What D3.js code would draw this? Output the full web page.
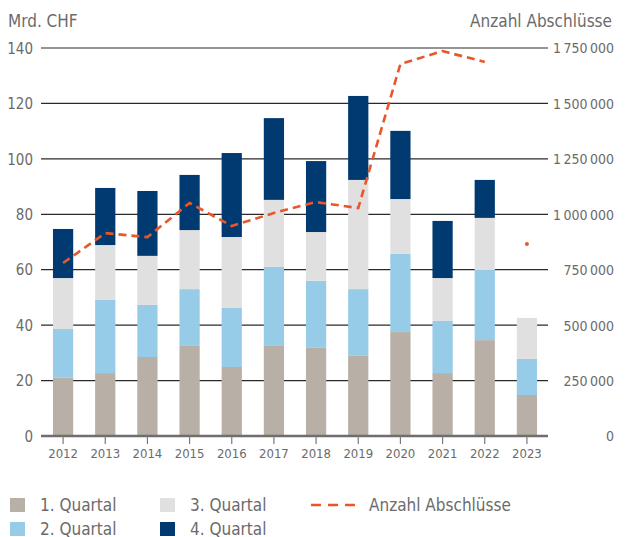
<!DOCTYPE html>
<html>
<head>
<meta charset="utf-8">
<script src="https://cdn.jsdelivr.net/npm/d3@7"></script>
<style>
    body { margin: 0; background: #fff; }
    svg text { font-family: "Liberation Sans Narrow", "DejaVu Sans Condensed", "Open Sans", sans-serif; fill: #6b6b6b; }
</style>
</head>
<body>
<div id="chart-area"></div>
<script>
    // Data (Mrd. CHF per quarter, deals per year)
    const years = ['2012', '2013', '2014', '2015', '2016', '2017', '2018', '2019', '2020', '2021', '2022', '2023'];
    const q1 = [21.0, 22.7, 28.5, 32.5, 24.9, 32.5, 31.8, 28.9, 37.5, 22.7, 34.6, 14.8];
    const q2 = [17.6, 26.4, 18.8, 20.5, 21.3, 28.5, 24.2, 24.1, 28.2, 18.8, 25.3, 13.0];
    const q3 = [18.4, 19.8, 17.7, 21.3, 25.6, 24.2, 17.6, 39.4, 19.8, 15.5, 18.8, 14.8];
    const q4 = [17.7, 20.6, 23.4, 19.9, 30.3, 29.5, 25.6, 30.3, 24.6, 20.6, 13.7, 0];
    const deals = [780000, 915000, 897000, 1051000, 947000, 1006000, 1055000, 1028000, 1678000, 1736000, 1687000, 866000];
    const leftTicks = [0, 20, 40, 60, 80, 100, 120, 140];
    const rightTicks = [0, 250000, 500000, 750000, 1000000, 1250000, 1500000, 1750000];
    const quarterNames = ['1. Quartal', '2. Quartal', '3. Quartal', '4. Quartal'];
    const quarterColors = ['#b8afa6', '#97cce8', '#e0e0e0', '#003a70'];
    const lineColor = '#e8572a';

    const W = 631, H = 537;
    const margin = {top: 48, right: 83, bottom: 101, left: 42};
    const wGraph = W - margin.left - margin.right;
    const hGraph = H - margin.top - margin.bottom;

    const svg = d3.select('#chart-area').append('svg')
        .attr('width', W)
        .attr('height', H);

    const graph = svg.append('g')
        .attr('transform', `translate(${margin.left}, ${margin.top})`);

    const xScale = d3.scaleBand()
        .domain(years)
        .range([0, wGraph])
        .paddingInner(0.52)
        .paddingOuter(0.26);

    const yScale = d3.scaleLinear().domain([0, 140]).range([hGraph, 0]);
    const y2Scale = d3.scaleLinear().domain([0, 1750000]).range([hGraph, 0]);

    // Gridlines
    graph.append('g')
        .selectAll('line')
        .data(leftTicks.filter(d => d > 0))
        .enter().append('line')
        .attr('x1', -1).attr('x2', wGraph)
        .attr('y1', d => yScale(d)).attr('y2', d => yScale(d))
        .attr('stroke', '#2a2a2a')
        .attr('stroke-width', 1.2);

    // Left axis labels
    const yAxisCall = d3.axisLeft(yScale).tickValues(leftTicks).tickSize(0).tickPadding(9);
    graph.append('g')
        .attr('class', 'y-axis')
        .call(yAxisCall)
        .call(g => g.select('.domain').remove())
        .selectAll('text')
        .attr('font-size', '15px')
        .attr('dy', '0.35em');

    // Right axis labels
    const fmt = d => d3.format(',')(d).replace(/,/g, '\u2009');
    const y2AxisCall = d3.axisRight(y2Scale).tickValues(rightTicks).tickSize(0).tickPadding(0).tickFormat(fmt);
    graph.append('g')
        .attr('class', 'y2-axis')
        .attr('transform', `translate(${W - margin.left - 17}, 0)`)
        .call(y2AxisCall)
        .call(g => g.select('.domain').remove())
        .selectAll('text')
        .attr('text-anchor', 'end')
        .attr('font-size', '14px')
        .attr('dy', '0.35em');

    // Stacked bars
    const table = years.map((y, i) => ({year: y, q1: q1[i], q2: q2[i], q3: q3[i], q4: q4[i]}));
    const stack = d3.stack().keys(['q1', 'q2', 'q3', 'q4'])(table);

    graph.append('g')
        .selectAll('g')
        .data(stack)
        .enter().append('g')
        .attr('fill', (d, i) => quarterColors[i])
        .selectAll('rect')
        .data(d => d)
        .enter().append('rect')
        .attr('x', d => xScale(d.data.year))
        .attr('y', d => yScale(d[1]))
        .attr('width', xScale.bandwidth())
        .attr('height', d => yScale(d[0]) - yScale(d[1]));

    // X axis
    const xAxisCall = d3.axisBottom(xScale).tickSize(8).tickPadding(5);
    const xAxis = graph.append('g')
        .attr('class', 'x-axis')
        .attr('transform', `translate(0, ${hGraph})`)
        .call(xAxisCall);
    xAxis.select('.domain')
        .attr('d', `M-1,0H${wGraph}`)
        .attr('stroke', '#6e6e6e')
        .attr('stroke-width', 2.5);
    xAxis.selectAll('.tick line').attr('stroke', '#7a7a7a').attr('stroke-width', 1.2);
    xAxis.selectAll('text').attr('font-size', '13px');

    // Deals line (2023 is not connected)
    const cx = d => xScale(d.year) + xScale.bandwidth() / 2;
    const lineData = years.map((y, i) => ({year: y, v: deals[i]}));
    const line = d3.line()
        .defined(d => d.year !== '2023')
        .x(cx)
        .y(d => y2Scale(d.v));
    graph.append('path')
        .datum(lineData)
        .attr('fill', 'none')
        .attr('stroke', lineColor)
        .attr('stroke-width', 2.6)
        .attr('stroke-dasharray', '8,5')
        .attr('d', line);
    graph.append('g')
        .selectAll('circle')
        .data(lineData.filter(d => d.year === '2023'))
        .enter().append('circle')
        .attr('cx', cx)
        .attr('cy', d => y2Scale(d.v))
        .attr('r', 2)
        .attr('fill', lineColor);

    // Axis titles
    svg.append('text')
        .attr('x', 8).attr('y', 27)
        .attr('font-size', '17px')
        .text('Mrd. CHF');
    svg.append('text')
        .attr('x', 612).attr('y', 27)
        .attr('text-anchor', 'end')
        .attr('font-size', '17px')
        .text('Anzahl Abschlüsse');

    // Legend
    const legendPos = [[10, 498], [10, 522], [160, 498], [160, 522]];
    const legend = svg.append('g');
    quarterNames.forEach((name, i) => {
        legend.append('rect')
            .attr('x', legendPos[i][0]).attr('y', legendPos[i][1])
            .attr('width', 15).attr('height', 14)
            .attr('fill', quarterColors[i]);
        legend.append('text')
            .attr('x', legendPos[i][0] + 30).attr('y', legendPos[i][1] + 13)
            .attr('font-size', '17px')
            .text(name);
    });
    legend.append('line')
        .attr('x1', 311).attr('x2', 355)
        .attr('y1', 505).attr('y2', 505)
        .attr('stroke', lineColor)
        .attr('stroke-width', 2.6)
        .attr('stroke-dasharray', '10,7');
    legend.append('text')
        .attr('x', 369).attr('y', 511)
        .attr('font-size', '17px')
        .text('Anzahl Abschlüsse');
</script>
</body>
</html>
